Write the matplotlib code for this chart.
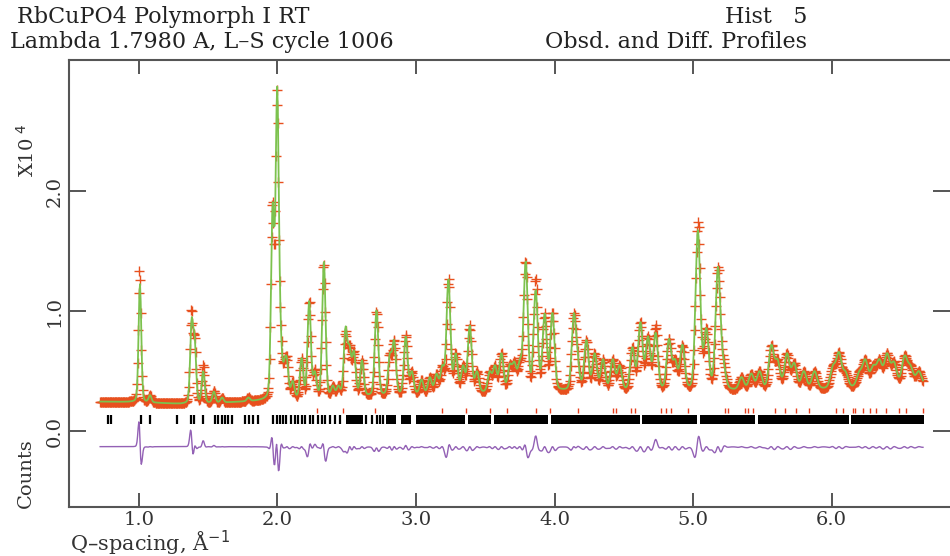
import numpy as np
import matplotlib
matplotlib.use("Agg")
import matplotlib.pyplot as plt

# ---------------- data (counts in units of 10^4) ----------------
# Bragg peaks read from the profile: position (Q, 1/A), calculated and observed peak top
peak_q = [1.007, 1.080, 1.380, 1.402, 1.464, 1.541, 1.600, 1.790,
          1.965, 1.998, 2.022, 2.050, 2.068, 2.110, 2.174, 2.229, 2.270, 2.335,
          2.400, 2.440, 2.491, 2.520, 2.552, 2.610, 2.715, 2.811, 2.842, 2.926,
          2.970, 3.040, 3.100, 3.148, 3.190, 3.234, 3.287, 3.340, 3.388, 3.440,
          3.532, 3.570, 3.617, 3.677, 3.710, 3.750, 3.792, 3.864, 3.929, 3.985,
          4.139, 4.165, 4.230, 4.290, 4.350, 4.420, 4.470, 4.562, 4.620, 4.675,
          4.730, 4.826, 4.870, 4.923, 5.035, 5.096, 5.180, 5.220, 5.350, 5.420,
          5.480, 5.565, 5.610, 5.678, 5.730, 5.800, 5.877, 6.010, 6.053, 6.100,
          6.200, 6.243, 6.300, 6.345, 6.400, 6.450, 6.527, 6.570, 6.630]
calc_top = [1.23, 0.30, 0.94, 0.80, 0.50, 0.33, 0.28, 0.28,
            1.90, 2.87, 1.00, 0.60, 0.61, 0.42, 0.61, 1.09, 0.50, 1.41,
            0.38, 0.38, 0.87, 0.72, 0.67, 0.59, 1.01, 0.65, 0.76, 0.79,
            0.50, 0.43, 0.45, 0.48, 0.55, 1.27, 0.65, 0.55, 0.88, 0.50,
            0.50, 0.55, 0.65, 0.56, 0.58, 0.60, 1.42, 1.18, 0.98, 0.99,
            0.98, 0.69, 0.76, 0.65, 0.60, 0.60, 0.55, 0.70, 0.91, 0.79,
            0.82, 0.77, 0.60, 0.72, 1.675, 0.86, 1.37, 0.60, 0.45, 0.48,
            0.50, 0.72, 0.60, 0.65, 0.57, 0.50, 0.50, 0.55, 0.66, 0.50,
            0.50, 0.60, 0.55, 0.60, 0.65, 0.58, 0.63, 0.55, 0.50]
obs_top = [1.34, 0.30, 1.02, 0.80, 0.55, 0.34, 0.28, 0.28,
           1.93, 2.85, 0.98, 0.59, 0.61, 0.42, 0.61, 1.09, 0.52, 1.40,
           0.38, 0.38, 0.83, 0.72, 0.67, 0.59, 1.00, 0.65, 0.76, 0.80,
           0.50, 0.43, 0.45, 0.48, 0.55, 1.27, 0.65, 0.55, 0.88, 0.50,
           0.50, 0.55, 0.65, 0.56, 0.58, 0.60, 1.42, 1.27, 0.98, 0.99,
           0.98, 0.69, 0.76, 0.65, 0.60, 0.60, 0.55, 0.70, 0.91, 0.79,
           0.88, 0.77, 0.60, 0.72, 1.745, 0.86, 1.37, 0.60, 0.45, 0.48,
           0.50, 0.72, 0.60, 0.65, 0.57, 0.50, 0.50, 0.55, 0.66, 0.50,
           0.50, 0.60, 0.55, 0.60, 0.65, 0.58, 0.63, 0.55, 0.50]
# observed peaks that sit slightly off the calculated position
shift_q = [1.007, 1.380, 1.965, 1.998, 2.229, 2.335, 3.234, 3.792, 5.035]
shift_dq = [-0.0025, -0.002, -0.001, -0.001, 0.0012, -0.0012, 0.001, -0.001, 0.0012]
obs_width_ratio = 0.93   # observed peaks a little sharper than the calculated ones

# background knots
bg_q = [0.72, 1.00, 1.30, 1.60, 1.90, 2.50, 3.00, 4.00, 5.00, 5.50, 6.00, 6.66]
bg_y = [0.245, 0.240, 0.225, 0.235, 0.250, 0.280, 0.300, 0.330, 0.330, 0.340, 0.350, 0.380]

q_min, q_max = 0.72, 6.66

# reflection markers
black_ticks = [0.78, 0.80, 1.012, 1.08, 1.275, 1.373, 1.40, 1.46, 1.548, 1.572, 1.597,
               1.620, 1.644, 1.669, 1.765, 1.794, 1.825, 1.856, 1.969, 1.993, 2.017,
               2.041, 2.065, 2.101, 2.125, 2.149, 2.174, 2.198, 2.234, 2.258, 2.294,
               2.318, 2.342, 2.378, 2.414, 2.450, 2.642, 2.679, 2.715, 2.739, 2.763]
black_bands = [(2.498, 2.618), (2.787, 2.859), (2.895, 2.967), (3.003, 3.352),
               (3.376, 3.545), (3.560, 3.955), (3.975, 4.620), (4.635, 5.030),
               (5.050, 5.450), (5.470, 6.125), (6.140, 6.665)]
red_ticks = [2.282, 2.474, 2.703, 3.190, 3.364, 3.532, 3.660, 3.865, 3.965, 4.170,
             4.422, 4.447, 4.555, 4.583, 4.771, 4.807, 4.843, 4.963, 5.228, 5.252,
             5.372, 5.396, 5.432, 5.589, 5.661, 5.745, 5.840, 6.034, 6.081, 6.154,
             6.166, 6.226, 6.274, 6.323, 6.394, 6.490, 6.540, 6.659]

diff_offset = -0.13

x_ticks = [1.0, 2.0, 3.0, 4.0, 5.0, 6.0]
y_ticks = [0.0, 1.0, 2.0]

# ---------------- profile construction ----------------
pq = np.array(peak_q)
q = np.arange(q_min, q_max + 1e-9, 0.0045)
bg = np.interp(q, bg_q, bg_y)


def shape(x, c, s):
    g = np.exp(-0.5 * ((x - c) / s) ** 2)
    lz = 1.0 / (1.0 + ((x - c) / (1.18 * s)) ** 2)
    return 0.8 * g + 0.2 * lz


sig_calc = 0.008 + 0.0018 * pq
sig_obs = sig_calc * obs_width_ratio


def amplitudes(centers, tops, sig):
    tops = np.array(tops)
    target = tops - np.interp(centers, bg_q, bg_y)
    M = np.array([[shape(ci, cj, sj) for cj, sj in zip(centers, sig)] for ci in centers])
    a = np.clip(target, 0, None).copy()
    for _ in range(300):
        a = np.clip(a + 0.5 * (target - M @ a), 0, None)
    return a


obs_centers = pq.copy()
for sq, dq in zip(shift_q, shift_dq):
    obs_centers[np.argmin(np.abs(pq - sq))] += dq

a_calc = amplitudes(pq, calc_top, sig_calc)
a_obs = amplitudes(obs_centers, obs_top, sig_obs)

calc = bg + sum(a * shape(q, c, s) for a, c, s in zip(a_calc, pq, sig_calc))
obs = bg + sum(a * shape(q, c, s) for a, c, s in zip(a_obs, obs_centers, sig_obs))
diff = obs - calc + diff_offset

# ---------------- plot ----------------
fig = plt.figure(figsize=(9.5, 5.56), dpi=100)
ax = fig.add_axes([69 / 950, 49 / 556, 1 - 69 / 950, (507 - 60) / 556])

ax.plot(q, obs, linestyle="none", marker="+", markersize=6.5, markeredgewidth=1.0,
        color="#E8501E", zorder=2)
ax.plot(q, calc, color="#7CC24E", lw=1.3, zorder=3)
ax.plot(q, diff, color="#9361B5", lw=1.0, zorder=3)

ax.vlines(black_ticks, 0.06, 0.13, color="black", lw=1.6, zorder=2)
ax.broken_barh([(a, b - a) for a, b in black_bands], (0.06, 0.07),
               facecolor="black", edgecolor="none", zorder=2)
ax.vlines(red_ticks, 0.15, 0.19, color="#E8401E", lw=1.0, zorder=2)

ax.set_xlim(0.495, 6.855)
ax.set_ylim(-0.633, 3.092)

ax.set_xticks(x_ticks)
ax.set_xticklabels([f"{t:.1f}" for t in x_ticks])
ax.set_yticks(y_ticks)
ax.set_yticklabels([f"{t:.1f}" for t in y_ticks], rotation=90, va="center")

ax.tick_params(axis="x", direction="in", length=10, width=1.4, color="#555555",
               top=True, bottom=True, labelsize=14, pad=3, labelcolor="#333333")
ax.tick_params(axis="y", direction="in", length=12, width=1.4, color="#555555",
               left=True, right=True, labelsize=14, pad=4, labelcolor="#333333")
for lab in ax.get_xticklabels() + ax.get_yticklabels():
    lab.set_fontfamily("DejaVu Serif")

for side in ["left", "top", "bottom"]:
    ax.spines[side].set_color("#555555")
    ax.spines[side].set_linewidth(1.5)
ax.spines["right"].set_visible(False)

txt = dict(family="DejaVu Serif", fontsize=16, color="#222222")
fig.text(17 / 950, 1 - 17 / 556, "RbCuPO4 Polymorph I RT", va="center", ha="left", **txt)
fig.text(725 / 950, 1 - 17 / 556, "Hist   5", va="center", ha="left", **txt)
fig.text(10 / 950, 1 - 42 / 556, "Lambda 1.7980 A, L\u2013S cycle 1006", va="center", ha="left", **txt)
fig.text(545 / 950, 1 - 42 / 556, "Obsd. and Diff. Profiles", va="center", ha="left", **txt)

fig.text(70 / 950, 1 - 543 / 556, "Q\u2013spacing, \u00c5$^{-1}$", va="center", ha="left",
         family="DejaVu Serif", fontsize=15, color="#333333")
fig.text(26 / 950, 1 - 473 / 556, "Counts", rotation=90, va="center", ha="center",
         family="DejaVu Serif", fontsize=14, color="#333333")
fig.text(27 / 950, 1 - 150 / 556, "X10$^{\\ 4}$", rotation=90, va="center", ha="center",
         family="DejaVu Serif", fontsize=14, color="#333333")

fig.savefig("out.png", dpi=100)
